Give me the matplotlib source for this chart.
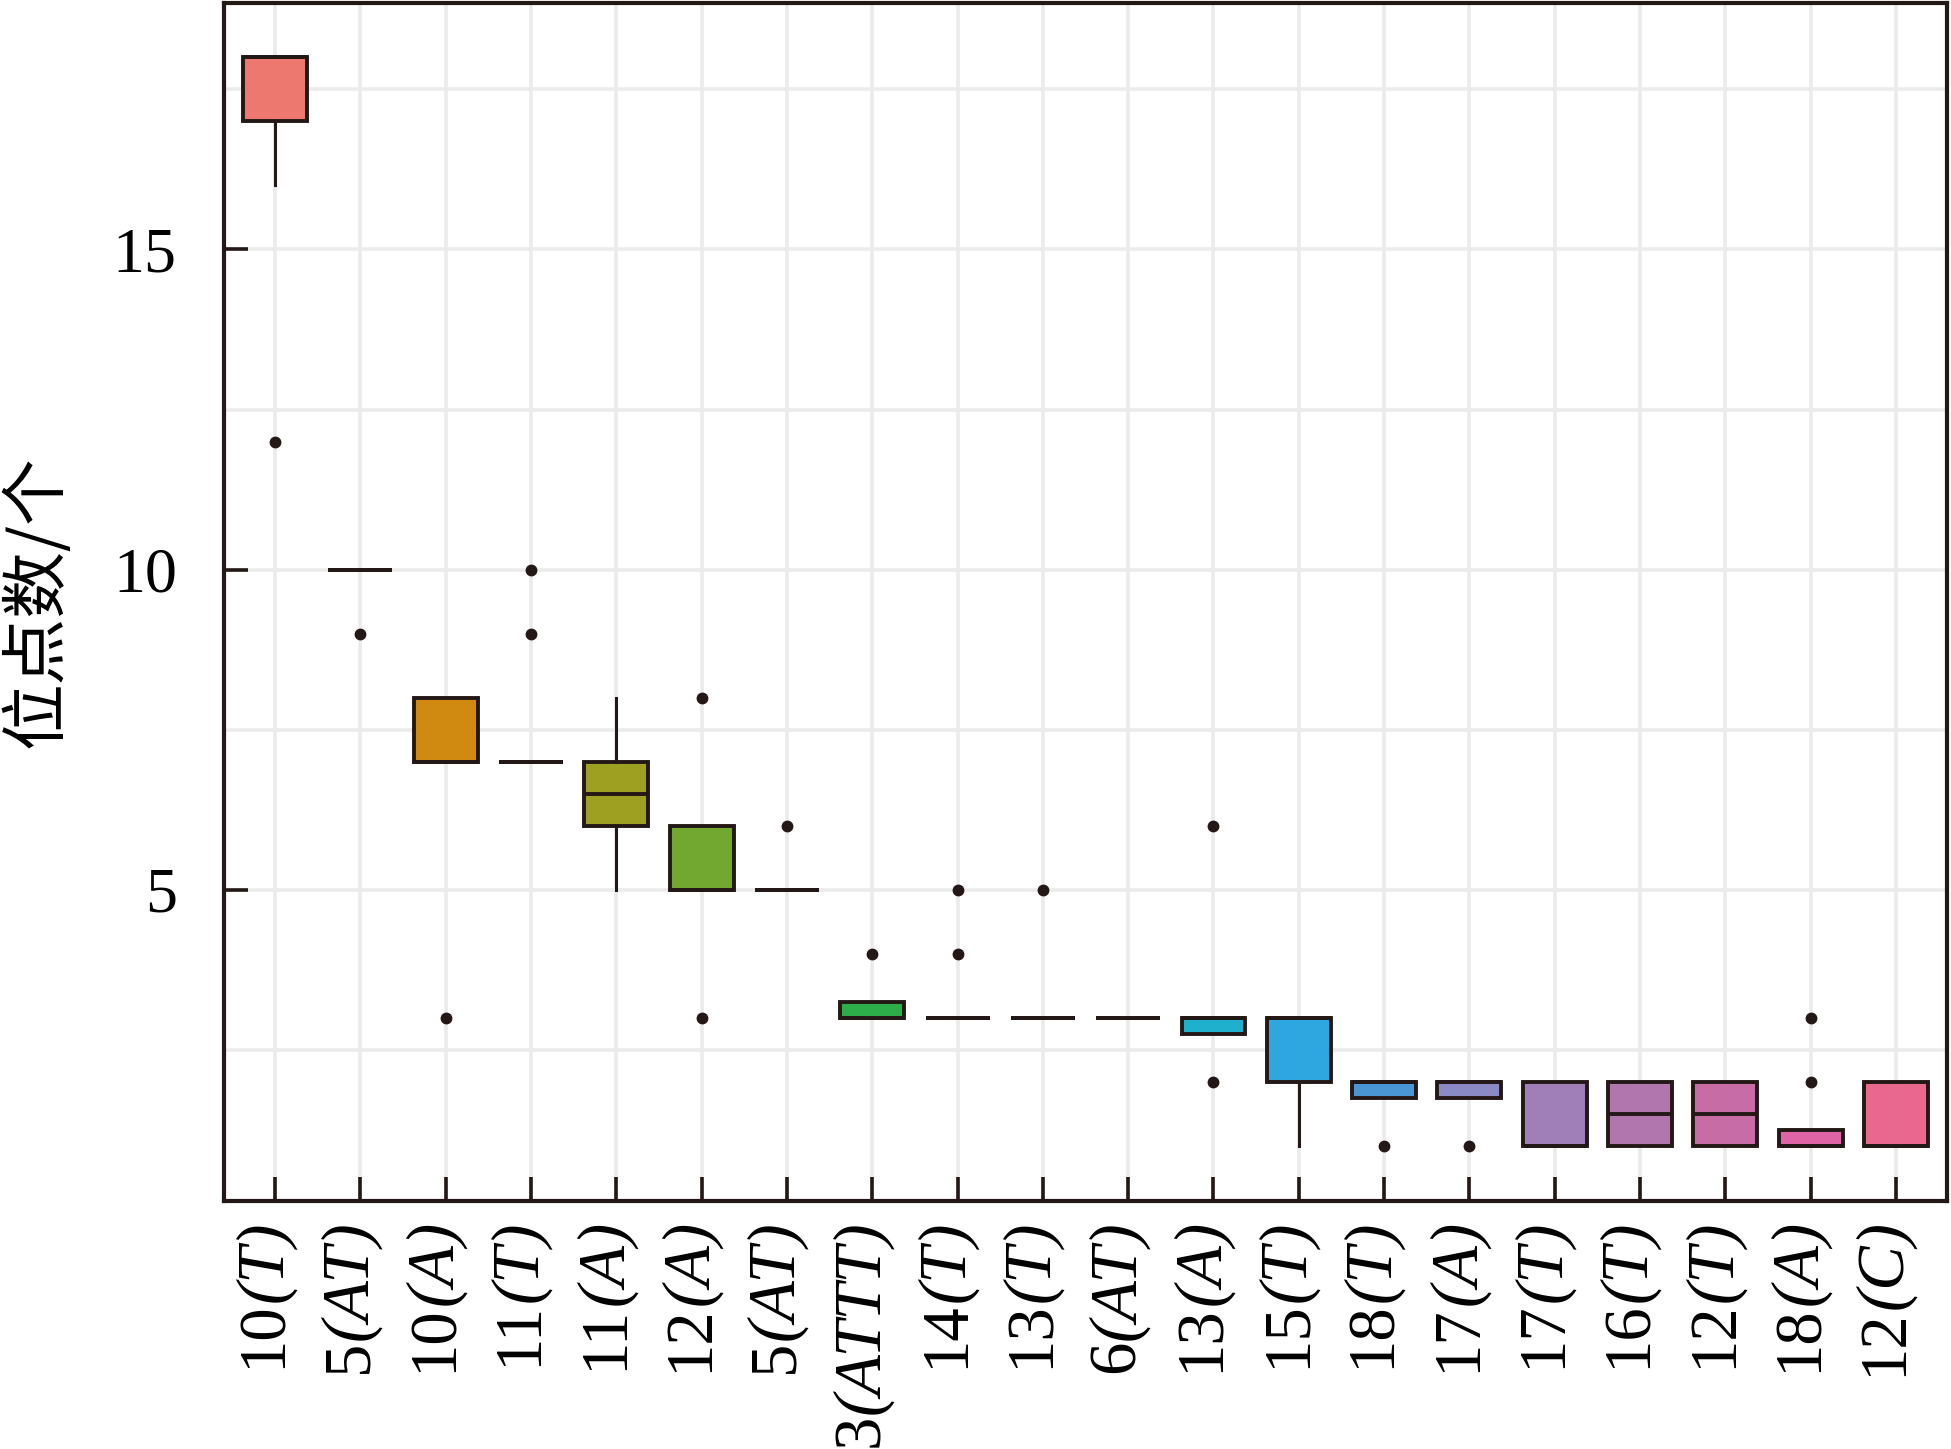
import numpy as np
import matplotlib
matplotlib.use("Agg")
import matplotlib.pyplot as plt

plt.rcParams['font.family'] = ['Liberation Serif', 'DejaVu Serif']

# repeat length and motif for each SSR type
repeat_num = ["10", "5", "10", "11", "11", "12", "5", "3", "14", "13",
              "6", "13", "15", "18", "17", "17", "16", "12", "18", "12"]
motif = ["T", "AT", "A", "T", "A", "A", "AT", "ATTT", "T", "T",
         "AT", "A", "T", "T", "A", "T", "T", "T", "A", "C"]

# box statistics
q1 = [17, 10, 7, 7, 6, 5, 5, 3, 3, 3, 3, 2.75, 2, 1.75, 1.75, 1, 1, 1, 1, 1]
med = [18, 10, 7, 7, 6.5, 5, 5, 3, 3, 3, 3, 3, 3, 2, 2, 1, 1.5, 1.5, 1, 1]
q3 = [18, 10, 8, 7, 7, 6, 5, 3.25, 3, 3, 3, 3, 3, 2, 2, 2, 2, 2, 1.25, 2]
whislo = [16, 10, 7, 7, 5, 5, 5, 3, 3, 3, 3, 2.75, 1, 1.75, 1.75, 1, 1, 1, 1, 1]
whishi = [18, 10, 8, 7, 8, 6, 5, 3.25, 3, 3, 3, 3, 3, 2, 2, 2, 2, 2, 1.25, 2]
fliers = [[12], [9], [3], [9, 10], [], [8, 3], [6], [4], [4, 5], [5],
          [], [2, 6], [], [1], [1], [], [], [], [2, 3], []]

colors = ["#EC7870", "#E07E40", "#D08A12", "#B89818", "#9EA021", "#72A830",
          "#40AC40", "#2DAE4A", "#20B07A", "#1EB0A0", "#1EB0BC", "#1EB0CC",
          "#2EA6E0", "#4A96D4", "#8A8AC6", "#A07FB8", "#B276AE", "#C86CA6",
          "#DE64A6", "#E86890"]

ink = '#231815'

stats = []
for i in range(len(motif)):
    stats.append({'q1': q1[i], 'med': med[i], 'q3': q3[i],
                  'whislo': whislo[i], 'whishi': whishi[i],
                  'fliers': fliers[i], 'label': ''})

fig = plt.figure(figsize=(19.51, 14.49), dpi=100)
ax = fig.add_axes([0.1148, 0.1714, 0.8832, 0.8266])

pos = np.arange(1, len(motif) + 1)
bp = ax.bxp(stats, positions=pos, widths=0.75, patch_artist=True,
            showcaps=False, zorder=3,
            boxprops=dict(linewidth=2.8, edgecolor=ink),
            medianprops=dict(linewidth=2.8, color=ink),
            whiskerprops=dict(linewidth=2.2, color=ink),
            flierprops=dict(marker='o', markersize=7.5, markerfacecolor=ink,
                            markeredgecolor=ink))
for patch, c in zip(bp['boxes'], colors):
    patch.set_facecolor(c)

ax.set_xlim(0.4, len(motif) + 0.6)
ax.set_ylim(0.15, 18.85)
ax.set_yticks([5, 10, 15])
ax.set_yticks([2.5, 7.5, 12.5, 17.5], minor=True)
ax.set_xticks(pos)
ax.set_xticklabels([])
ax.tick_params(axis='y', which='major', direction='in', length=17, width=2.6,
               labelsize=46, pad=34, color=ink)
ax.tick_params(axis='y', which='minor', length=0)
ax.tick_params(axis='x', direction='in', length=17, width=2.6, color=ink)

# x labels: upright repeat number + italic motif in brackets, rotated
fs = 48
for x, n, m in zip(pos, repeat_num, motif):
    t_it = ax.annotate("(" + m + ")", xy=(x, 0), xycoords=ax.get_xaxis_transform(),
                       xytext=(4, -14), textcoords='offset points',
                       rotation=90, rotation_mode='anchor', ha='right',
                       va='baseline', fontsize=fs, fontstyle='italic')
    ax.annotate(n, xy=(x, 0), xycoords=('data', t_it),
                xytext=(4, 0), textcoords='offset points',
                rotation=90, rotation_mode='anchor', ha='right',
                va='baseline', fontsize=fs)

ax.grid(True, which='both', color='#EBEBEB', linewidth=2.6, zorder=0)
ax.set_axisbelow(True)
for s in ax.spines.values():
    s.set_linewidth(3)
    s.set_color(ink)

ax.set_ylabel("位点数/个", family=['Noto Sans CJK SC', 'DejaVu Sans'],
              fontsize=48, labelpad=30)

fig.savefig("out.png", dpi=100)
